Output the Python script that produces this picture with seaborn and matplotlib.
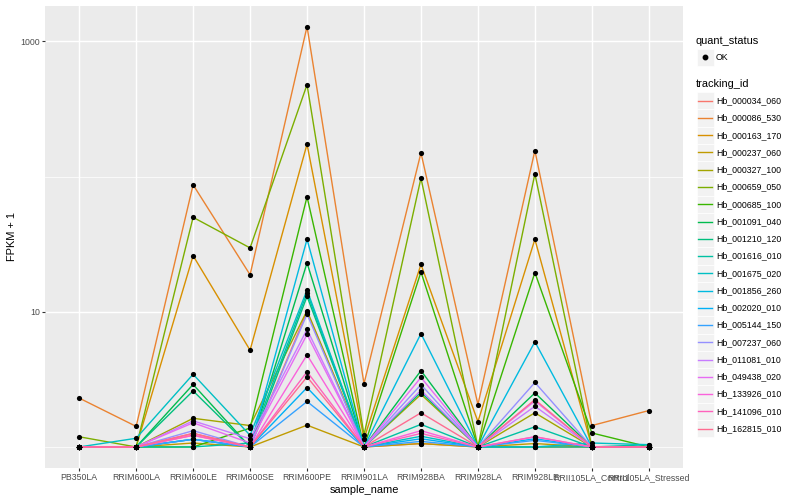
import numpy as np
import pandas as pd
import matplotlib
matplotlib.use("Agg")
import matplotlib.pyplot as plt
import seaborn as sns
from matplotlib.patches import Rectangle
from matplotlib.lines import Line2D
from matplotlib.ticker import NullFormatter, FixedLocator

samples = ["PB350LA", "RRIM600LA", "RRIM600LE", "RRIM600SE", "RRIM600PE",
           "RRIM901LA", "RRIM928BA", "RRIM928LA", "RRIM928LE",
           "RRII105LA_Control", "RRII105LA_Stressed"]

tracking_ids = ["Hb_000034_060", "Hb_000086_530", "Hb_000163_170", "Hb_000237_060",
                "Hb_000327_100", "Hb_000659_050", "Hb_000685_100", "Hb_001091_040",
                "Hb_001210_120", "Hb_001616_010", "Hb_001675_020", "Hb_001856_260",
                "Hb_002020_010", "Hb_005144_150", "Hb_007237_060", "Hb_011081_010",
                "Hb_049438_020", "Hb_133926_010", "Hb_141096_010", "Hb_162815_010"]

hue_colors = ["#F8766D", "#EA8331", "#D89000", "#C09B00", "#A3A500", "#7CAE00",
              "#39B600", "#00BB4E", "#00BF7D", "#00C1A3", "#00BFC4", "#00BAE0",
              "#00B0F6", "#35A2FF", "#9590FF", "#C77CFF", "#E76BF3", "#FA62DB",
              "#FF62BC", "#FF6C91"]

y_major_ticks = [10, 1000]
y_major_labels = ["10", "1000"]
y_minor_ticks = [1, 100]

# FPKM + 1 per tracking id, in sample order
hb_000034_060 = [1.0, 1.0, 1.26, 1.0, 10.0, 1.0, 1.06, 1.0, 1.0, 1.0, 1.0]
hb_000086_530 = [2.3, 1.42, 87, 18.8, 1290, 2.94, 150, 2.06, 156, 1.44, 1.86]
hb_000163_170 = [1.0, 1.0, 26, 5.2, 174, 1.15, 22.4, 1.54, 34.4, 1.0, 1.0]
hb_000237_060 = [1.0, 1.0, 1.07, 1.0, 1.45, 1.0, 1.06, 1.0, 1.06, 1.0, 1.0]
hb_000327_100 = [1.0, 1.0, 1.63, 1.44, 10.2, 1.0, 2.45, 1.0, 1.79, 1.0, 1.0]
hb_000659_050 = [1.19, 1.0, 50, 29.7, 479, 1.23, 97.5, 1.0, 105, 1.0, 1.0]
hb_000685_100 = [1.0, 1.0, 1.0, 1.38, 71, 1.0, 19.7, 1.0, 19.5, 1.27, 1.0]
hb_001091_040 = [1.0, 1.0, 2.9, 1.0, 23, 1.0, 3.67, 1.0, 2.51, 1.0, 1.0]
hb_001210_120 = [1.0, 1.0, 2.6, 1.0, 13.0, 1.0, 2.54, 1.0, 1.0, 1.0, 1.0]
hb_001616_010 = [1.0, 1.0, 1.0, 1.07, 13.8, 1.0, 1.47, 1.0, 1.41, 1.0, 1.04]
hb_001675_020 = [1.0, 1.16, 3.45, 1.22, 14.5, 1.0, 1.2, 1.0, 1.0, 1.07, 1.04]
hb_001856_260 = [1.0, 1.0, 1.14, 1.0, 34.4, 1.0, 6.9, 1.0, 6.0, 1.0, 1.0]
hb_002020_010 = [1.0, 1.0, 1.14, 1.0, 2.75, 1.0, 1.15, 1.0, 1.15, 1.0, 1.0]
hb_005144_150 = [1.0, 1.0, 1.14, 1.0, 2.17, 1.0, 1.1, 1.0, 1.12, 1.0, 1.0]
hb_007237_060 = [1.0, 1.0, 1.32, 1.0, 9.6, 1.0, 2.89, 1.0, 3.0, 1.0, 1.0]
hb_011081_010 = [1.0, 1.0, 1.56, 1.15, 7.4, 1.0, 2.63, 1.0, 2.0, 1.0, 1.0]
hb_049438_020 = [1.0, 1.0, 1.51, 1.07, 6.8, 1.0, 3.27, 1.0, 2.19, 1.0, 1.0]
hb_133926_010 = [1.0, 1.0, 1.22, 1.0, 4.8, 1.0, 1.32, 1.0, 1.19, 1.0, 1.0]
hb_141096_010 = [1.0, 1.0, 1.22, 1.0, 3.6, 1.0, 1.26, 1.0, 1.19, 1.0, 1.0]
hb_162815_010 = [1.0, 1.0, 1.26, 1.0, 3.3, 1.0, 1.79, 1.0, 2.24, 1.0, 1.0]

series = [hb_000034_060, hb_000086_530, hb_000163_170, hb_000237_060, hb_000327_100,
          hb_000659_050, hb_000685_100, hb_001091_040, hb_001210_120, hb_001616_010,
          hb_001675_020, hb_001856_260, hb_002020_010, hb_005144_150, hb_007237_060,
          hb_011081_010, hb_049438_020, hb_133926_010, hb_141096_010, hb_162815_010]

rows = []
for tid, vals in zip(tracking_ids, series):
    for i, (s, v) in enumerate(zip(samples, vals)):
        rows.append({"tracking_id": tid, "sample_name": s, "pos": i, "fpkm1": v})
df = pd.DataFrame(rows)

plt.rcParams["font.family"] = ["Liberation Sans", "DejaVu Sans"]

W, H = 800, 500
fig = plt.figure(figsize=(8, 5), dpi=100)
fig.patch.set_facecolor("white")
pl, pr, pt, pb = 45, 683, 5.5, 468
ax = fig.add_axes([pl / W, 1 - pb / H, (pr - pl) / W, (pb - pt) / H])
ax.set_facecolor("#EBEBEB")

sns.lineplot(data=df, x="pos", y="fpkm1", hue="tracking_id", hue_order=tracking_ids,
             palette=hue_colors, estimator=None, sort=True, linewidth=1.0,
             legend=False, ax=ax, zorder=2)
sns.scatterplot(data=df, x="pos", y="fpkm1", color="black", s=14, linewidth=0,
                legend=False, ax=ax, zorder=3)

ax.set_yscale("log")
lmin, lmax = np.log10(df["fpkm1"].min()), np.log10(df["fpkm1"].max())
ex = (lmax - lmin) * 0.05
ax.set_ylim(10 ** (lmin - ex), 10 ** (lmax + ex))
n = len(samples)
ax.set_xlim(-0.6, n - 1 + 0.6)

ax.yaxis.set_major_locator(FixedLocator(y_major_ticks))
ax.set_yticklabels(y_major_labels)
ax.yaxis.set_minor_locator(FixedLocator(y_minor_ticks))
ax.yaxis.set_minor_formatter(NullFormatter())
ax.set_xticks(range(n))
ax.set_xticklabels(samples)

ax.set_axisbelow(True)
ax.grid(which="major", color="white", linewidth=1.02)
ax.grid(which="minor", axis="y", color="white", linewidth=0.51)
ax.tick_params(which="minor", length=0)
ax.tick_params(which="major", length=2.0, width=0.8, color="#333333",
               labelsize=6.34, labelcolor="#4D4D4D", pad=1.6)
for sp in ax.spines.values():
    sp.set_visible(False)

ax.set_xlabel("sample_name", fontsize=7.9, color="black", labelpad=2.0)
ax.set_ylabel("FPKM + 1", fontsize=7.9, color="black", labelpad=2.6)

# legend (drawn manually in figure pixel coordinates)
def fx(x):
    return x / W

def fy(y):
    return 1 - y / H

key = 17.26
kx = 696.5
fig.text(fx(696), fy(40.7), "quant_status", fontsize=7.9, va="center", ha="left")
fig.add_artist(Rectangle((fx(kx), fy(57.2 + key / 2)), key / W, key / H,
                         transform=fig.transFigure, facecolor="#F2F2F2",
                         edgecolor="white", linewidth=0.5))
fig.add_artist(Line2D([fx(kx + key / 2)], [fy(57.2)], marker="o", color="black",
                      markersize=3.2, transform=fig.transFigure, linestyle="none"))
fig.text(fx(716), fy(57.2), "OK", fontsize=6.34, va="center", ha="left")

fig.text(fx(696), fy(84), "tracking_id", fontsize=7.9, va="center", ha="left")
for i, (tid, c) in enumerate(zip(tracking_ids, hue_colors)):
    yc = 100.7 + i * key
    fig.add_artist(Rectangle((fx(kx), fy(yc + key / 2)), key / W, key / H,
                             transform=fig.transFigure, facecolor="#F2F2F2",
                             edgecolor="white", linewidth=0.5))
    fig.add_artist(Line2D([fx(698.3), fx(711.7)], [fy(yc), fy(yc)], color=c,
                          linewidth=1.0, transform=fig.transFigure))
    fig.text(fx(716), fy(yc), tid, fontsize=6.34, va="center", ha="left")

fig.savefig("out.png", dpi=100)
